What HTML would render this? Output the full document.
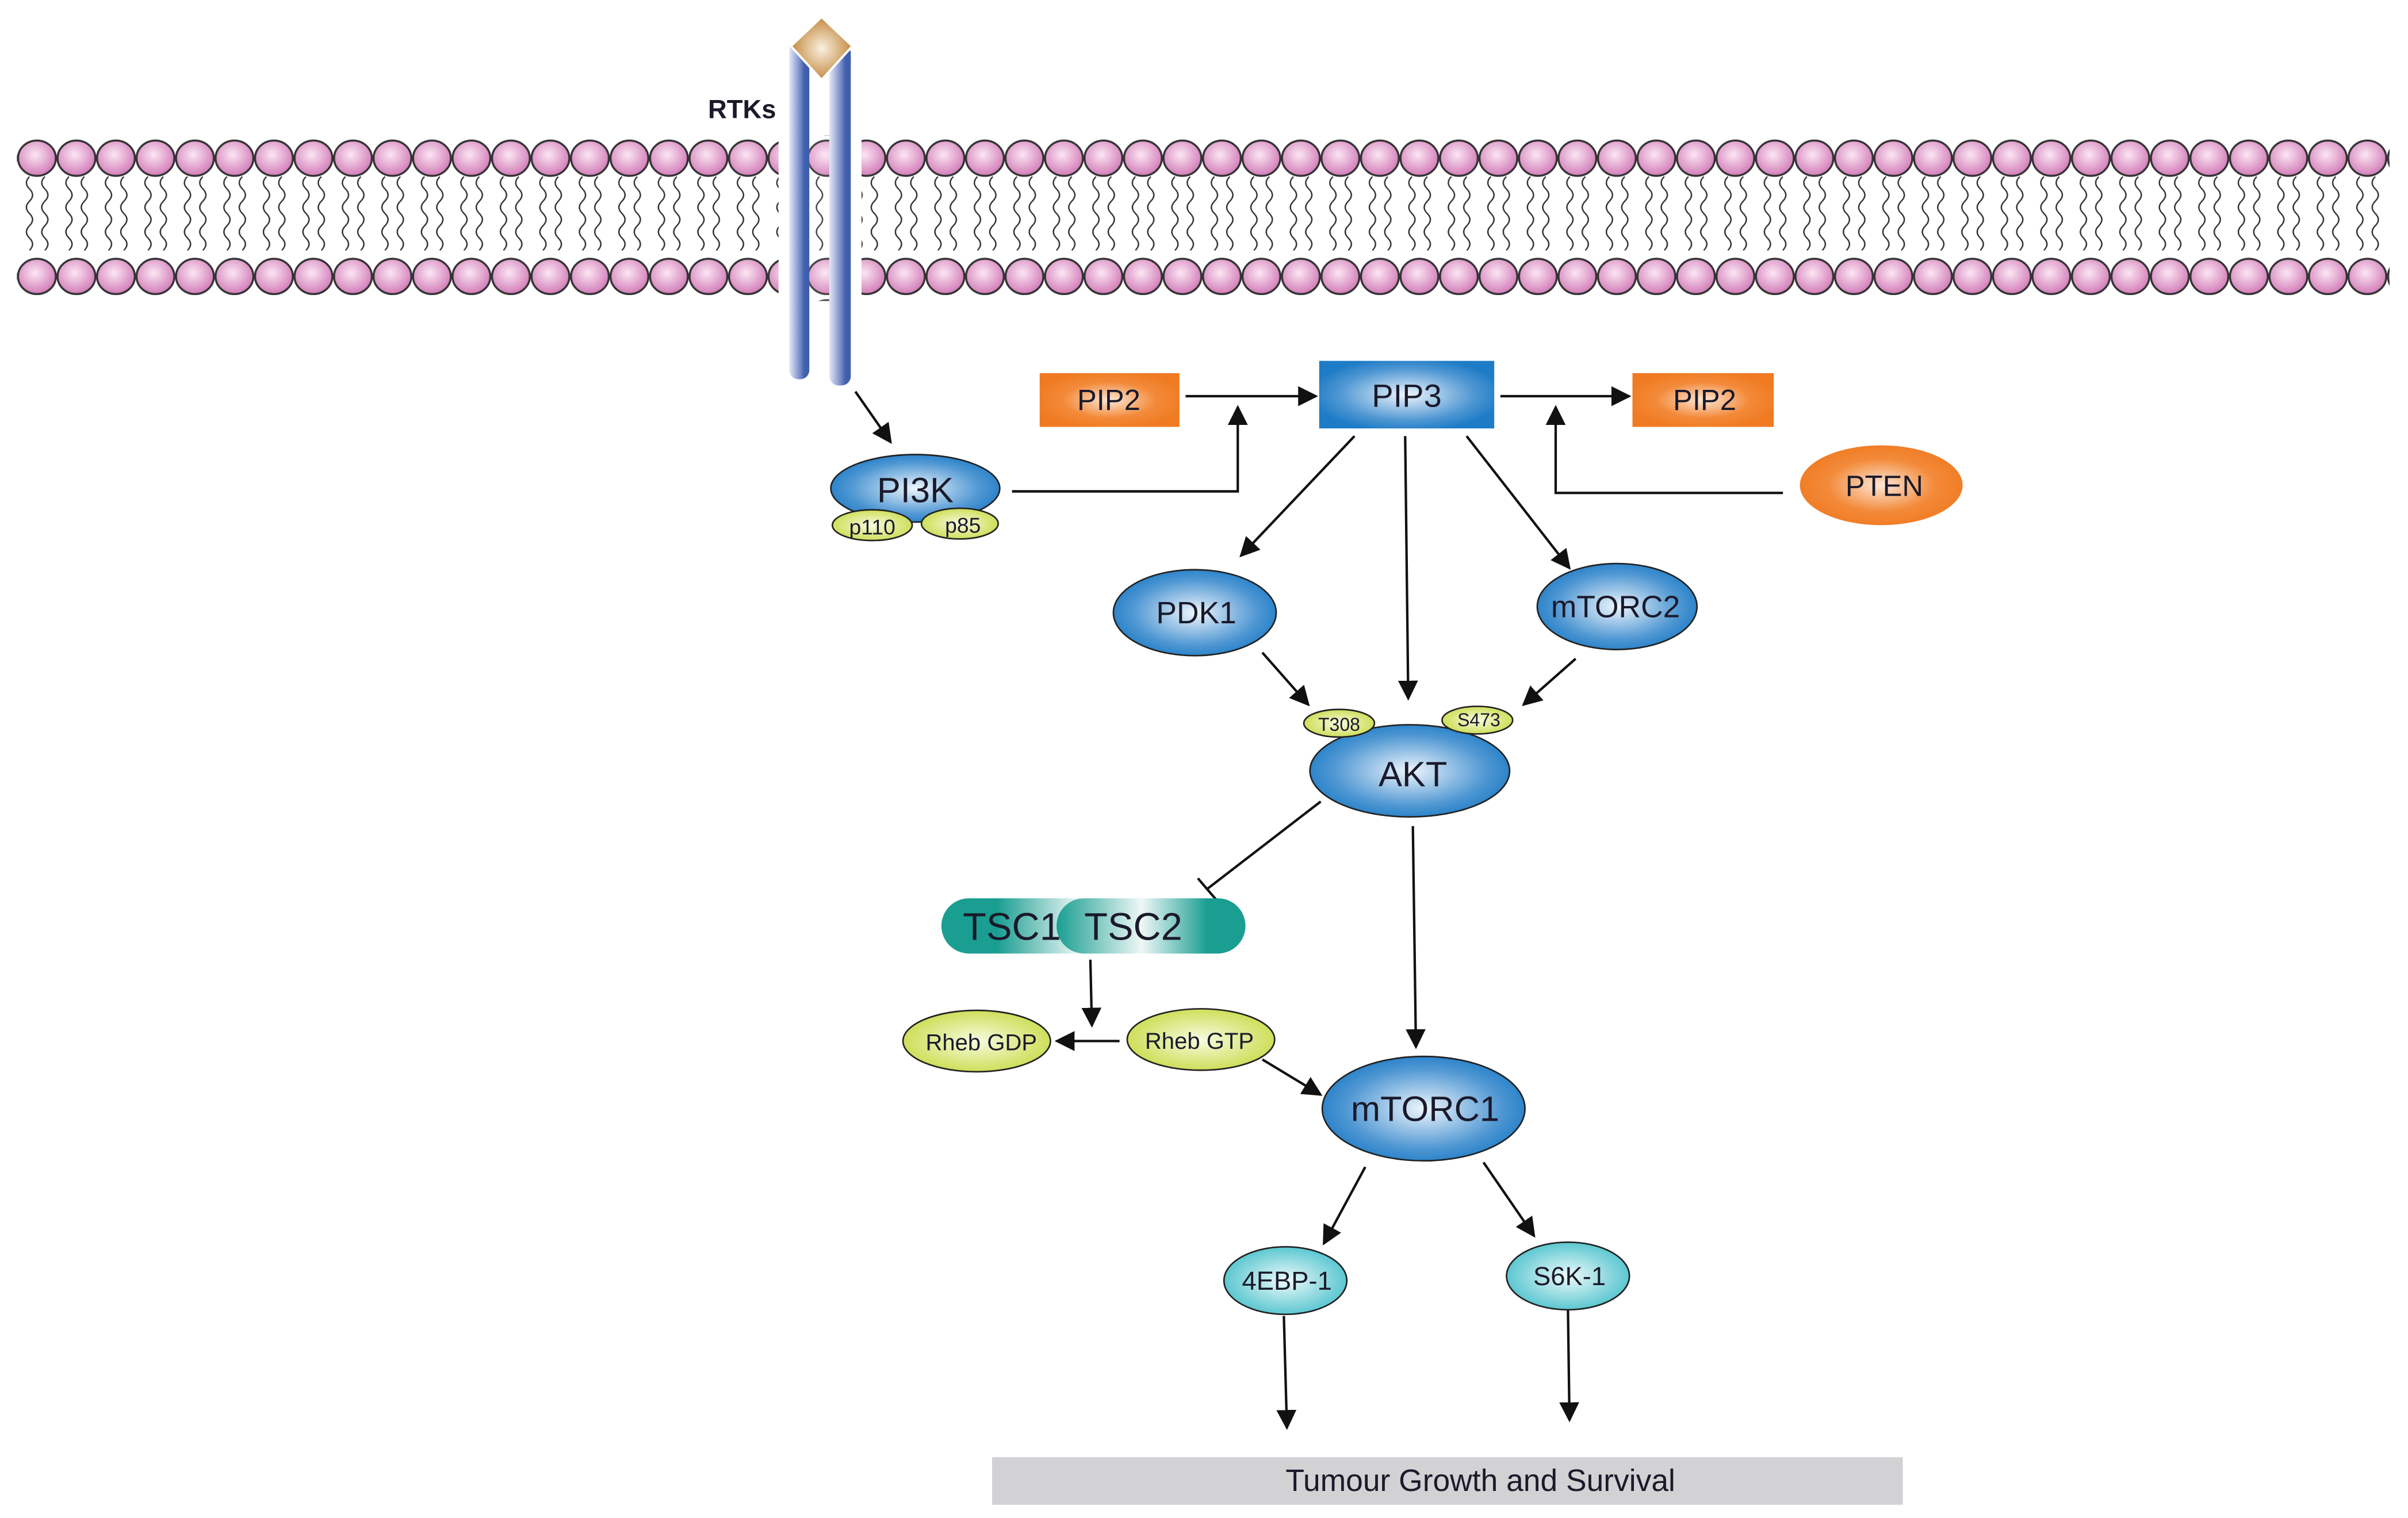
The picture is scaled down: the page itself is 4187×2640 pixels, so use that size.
<!DOCTYPE html>
<html><head><meta charset="utf-8"><style>
html,body{margin:0;padding:0;background:#fff}
svg{display:block}
text{font-family:"Liberation Sans",sans-serif;fill:#1a1a2a}
</style></head><body>
<svg width="4187" height="2640" viewBox="0 0 1568 988.6" xmlns="http://www.w3.org/2000/svg">
<defs>
<radialGradient id="head" cx="0.45" cy="0.4" r="0.6"><stop offset="0" stop-color="#fbe6f3"/><stop offset="1" stop-color="#d27cb8"/></radialGradient>
<radialGradient id="blue" cx="0.5" cy="0.5" r="0.55"><stop offset="0" stop-color="#eef5fc"/><stop offset="0.7" stop-color="#4f97d3"/><stop offset="1" stop-color="#1e7cc6"/></radialGradient>
<radialGradient id="org" cx="0.5" cy="0.5" r="0.55"><stop offset="0" stop-color="#fde7d6"/><stop offset="0.6" stop-color="#f38a3a"/><stop offset="1" stop-color="#f07a21"/></radialGradient>
<radialGradient id="yel" cx="0.5" cy="0.5" r="0.55"><stop offset="0" stop-color="#f8fbe0"/><stop offset="1" stop-color="#c9dc4c"/></radialGradient>
<radialGradient id="cyan" cx="0.5" cy="0.5" r="0.55"><stop offset="0" stop-color="#eefafb"/><stop offset="1" stop-color="#4dc2cc"/></radialGradient>
<radialGradient id="gold" cx="0.5" cy="0.5" r="0.55"><stop offset="0" stop-color="#fbf0e0"/><stop offset="1" stop-color="#bd8030"/></radialGradient>
<linearGradient id="bar" x1="0" x2="1"><stop offset="0" stop-color="#e4e8f6"/><stop offset="0.5" stop-color="#7f91cc"/><stop offset="0.75" stop-color="#4060ae"/><stop offset="1" stop-color="#3e5eac"/></linearGradient>
<linearGradient id="tsc1" x1="0" x2="1"><stop offset="0" stop-color="#1a9e92"/><stop offset="0.3" stop-color="#1a9e92"/><stop offset="0.75" stop-color="#eef7f6"/><stop offset="1" stop-color="#1a9e92"/></linearGradient>
<linearGradient id="tsc2" x1="0" x2="1"><stop offset="0" stop-color="#1a9e92"/><stop offset="0.45" stop-color="#eef7f6"/><stop offset="0.8" stop-color="#1a9e92"/><stop offset="1" stop-color="#1a9e92"/></linearGradient>
<marker id="ar" viewBox="0 0 10 10" refX="9" refY="5" markerWidth="6" markerHeight="6" markerUnits="userSpaceOnUse" orient="auto"><path d="M0,0 L10,5 L0,10 z" fill="#111"/></marker>
<marker id="ar2" viewBox="0 0 10 10" refX="9" refY="5" markerWidth="13" markerHeight="13" markerUnits="userSpaceOnUse" orient="auto"><path d="M0,0 L10,5 L0,10 z" fill="#111"/></marker>
<pattern id="mem" x="11.2" y="90" width="25.72" height="104" patternUnits="userSpaceOnUse">
<ellipse cx="12.86" cy="13" rx="12.3" ry="11.5" fill="url(#head)" stroke="#333" stroke-width="1.3"/>
<ellipse cx="12.86" cy="90" rx="12.3" ry="11.5" fill="url(#head)" stroke="#333" stroke-width="1.3"/>
<path d="M8,25 q-4,4 0,8 q4,4 0,8 q-4,4 0,8 q4,4 0,8 q-4,4 0,8 q4,4 0,8" fill="none" stroke="#333" stroke-width="0.9"/>
<path d="M18,25 q-4,4 0,8 q4,4 0,8 q-4,4 0,8 q4,4 0,8 q-4,4 0,8 q4,4 0,8" fill="none" stroke="#333" stroke-width="0.9"/>
</pattern>
</defs>

<rect x="11" y="90" width="1545" height="104" fill="url(#mem)"/>
<!-- RTK -->
<rect x="507" y="88" width="54" height="108" fill="#fff"/>
<rect x="527" y="88" width="13" height="108" fill="url(#mem)" opacity="0.9"/>
<rect x="514" y="30" width="13" height="217" rx="6" fill="url(#bar)"/>
<rect x="540" y="33" width="14" height="218" rx="6" fill="url(#bar)"/>
<rect x="514" y="30" width="13" height="8" fill="url(#bar)"/>
<rect x="540" y="33" width="14" height="8" fill="url(#bar)"/>
<path d="M535,11 L555,30 L535,52 L515,30 z" fill="url(#gold)" stroke="#fff" stroke-width="1.5"/>
<text x="461" y="77" font-size="17" font-weight="bold">RTKs</text>

<!-- arrows -->
<g stroke="#111" stroke-width="1.6" fill="none">
<line x1="557" y1="255" x2="580" y2="288" marker-end="url(#ar2)"/>
<polyline points="659,320 806,320 806,265" marker-end="url(#ar2)"/>
<line x1="772" y1="258" x2="857" y2="258" marker-end="url(#ar2)"/>
<line x1="977" y1="258" x2="1061" y2="258" marker-end="url(#ar2)"/>
<polyline points="1161,321 1013,321 1013,265" marker-end="url(#ar2)"/>
<line x1="882" y1="284" x2="808" y2="362" marker-end="url(#ar2)"/>
<line x1="915" y1="284" x2="917" y2="455" marker-end="url(#ar2)"/>
<line x1="955" y1="284" x2="1022" y2="370" marker-end="url(#ar2)"/>
<line x1="822" y1="425" x2="852" y2="459" marker-end="url(#ar2)"/>
<line x1="1026" y1="429" x2="992" y2="459" marker-end="url(#ar2)"/>
<line x1="860" y1="522" x2="786" y2="579"/>
<line x1="780" y1="572" x2="792" y2="586"/>
<line x1="920" y1="538" x2="922" y2="682" marker-end="url(#ar2)"/>
<line x1="710" y1="625" x2="711" y2="668" marker-end="url(#ar2)"/>
<line x1="729" y1="678" x2="688" y2="678" marker-end="url(#ar2)"/>
<line x1="822" y1="690" x2="860" y2="713" marker-end="url(#ar2)"/>
<line x1="889" y1="760" x2="862" y2="810" marker-end="url(#ar2)"/>
<line x1="966" y1="757" x2="999" y2="805" marker-end="url(#ar2)"/>
<line x1="836" y1="857" x2="838" y2="930" marker-end="url(#ar2)"/>
<line x1="1021" y1="853" x2="1022" y2="925" marker-end="url(#ar2)"/>
</g>

<!-- boxes -->
<rect x="677" y="243" width="91" height="35" fill="url(#org)"/>
<text x="722" y="267" font-size="19" text-anchor="middle">PIP2</text>
<rect x="859" y="235" width="114" height="44" fill="url(#blue)"/>
<text x="916" y="265" font-size="21" text-anchor="middle">PIP3</text>
<rect x="1063" y="243" width="92" height="35" fill="url(#org)"/>
<text x="1110" y="267" font-size="19" text-anchor="middle">PIP2</text>
<ellipse cx="1225" cy="316" rx="53" ry="26" fill="url(#org)"/>
<text x="1227" y="323" font-size="19" text-anchor="middle">PTEN</text>

<!-- PI3K -->
<ellipse cx="596" cy="318" rx="55" ry="22" fill="url(#blue)" stroke="#222" stroke-width="1"/>
<text x="596" y="327" font-size="23" text-anchor="middle">PI3K</text>
<ellipse cx="568" cy="342" rx="26" ry="10" fill="url(#yel)" stroke="#222" stroke-width="1"/>
<text x="568" y="348" font-size="14" text-anchor="middle">p110</text>
<ellipse cx="625" cy="341" rx="25" ry="10" fill="url(#yel)" stroke="#222" stroke-width="1"/>
<text x="627" y="347" font-size="14" text-anchor="middle">p85</text>

<ellipse cx="778" cy="399" rx="53" ry="28" fill="url(#blue)" stroke="#222" stroke-width="1"/>
<text x="779" y="406" font-size="20" text-anchor="middle">PDK1</text>
<ellipse cx="1053" cy="395" rx="52" ry="28" fill="url(#blue)" stroke="#222" stroke-width="1"/>
<text x="1052" y="402" font-size="20" text-anchor="middle">mTORC2</text>

<ellipse cx="918" cy="502" rx="65" ry="30" fill="url(#blue)" stroke="#222" stroke-width="1"/>
<text x="920" y="512" font-size="23" text-anchor="middle">AKT</text>
<ellipse cx="872" cy="471" rx="23" ry="9" fill="url(#yel)" stroke="#222" stroke-width="1"/>
<text x="872" y="476" font-size="12" text-anchor="middle">T308</text>
<ellipse cx="962" cy="469" rx="23" ry="9" fill="url(#yel)" stroke="#222" stroke-width="1"/>
<text x="963" y="473" font-size="12" text-anchor="middle">S473</text>

<!-- TSC -->
<rect x="613" y="585" width="120" height="36" rx="18" fill="url(#tsc1)"/>
<rect x="688" y="585" width="123" height="36" rx="18" fill="url(#tsc2)"/>
<text x="627" y="612" font-size="25">TSC1</text>
<text x="706" y="612" font-size="25">TSC2</text>

<ellipse cx="636" cy="678" rx="48" ry="20" fill="url(#yel)" stroke="#222" stroke-width="1"/>
<text x="639" y="684" font-size="15" text-anchor="middle">Rheb GDP</text>
<ellipse cx="782" cy="677" rx="48" ry="20" fill="url(#yel)" stroke="#222" stroke-width="1"/>
<text x="781" y="683" font-size="15" text-anchor="middle">Rheb GTP</text>

<ellipse cx="927" cy="722" rx="66" ry="34" fill="url(#blue)" stroke="#222" stroke-width="1"/>
<text x="928" y="730" font-size="23" text-anchor="middle">mTORC1</text>

<ellipse cx="837" cy="834" rx="40" ry="22" fill="url(#cyan)" stroke="#222" stroke-width="1"/>
<text x="838" y="840" font-size="17" text-anchor="middle">4EBP-1</text>
<ellipse cx="1021" cy="831" rx="40" ry="22" fill="url(#cyan)" stroke="#222" stroke-width="1"/>
<text x="1022" y="837" font-size="17" text-anchor="middle">S6K-1</text>

<rect x="646" y="949" width="593" height="31" fill="#d2d2d4"/>
<text x="964" y="971" font-size="20" text-anchor="middle">Tumour Growth and Survival</text>
</svg>
</body></html>
